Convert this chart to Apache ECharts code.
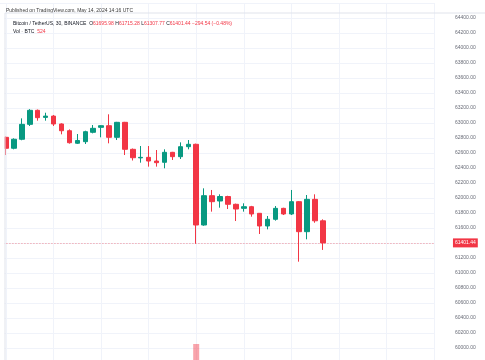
<!DOCTYPE html>
<html>
<head>
<meta charset="utf-8">
<script src="https://cdn.jsdelivr.net/npm/echarts@6/dist/echarts.min.js"></script>
<style>
html,body{margin:0;padding:0;background:#fff;}
#c{width:485px;height:360px;}
</style>
</head>
<body>
<div id="c"></div>
<script>
// 30-minute candles, May 13 18:00 UTC -> May 14 14:00 UTC
const times = ['18:00','18:30','19:00','19:30','20:00','20:30','21:00','21:30','22:00','22:30','23:00','23:30',
  '00:00','00:30','01:00','01:30','02:00','02:30','03:00','03:30','04:00','04:30','05:00','05:30',
  '06:00','06:30','07:00','07:30','08:00','08:30','09:00','09:30','10:00','10:30','11:00','11:30',
  '12:00','12:30','13:00','13:30','14:00'];
const opens  = [62809,62663,62783,62982,63169,63075,63092,62987,62897,62730,62751,62876,
  62942,62964,62809,63009,62649,62535,62542,62493,62476,62609,62551,62684,
  62716,61640,62031,61960,62020,61916,61862,61884,61796,61627,61716,61862,
  61787,61951,61551,61982,61695.98];
const closes = [62663,62783,62982,63169,63071,63092,62987,62897,62737,62767,62884,62929,
  62964,62809,63009,62649,62537,62542,62493,62471,62609,62551,62684,62716,
  61640,62031,61951,62020,61916,61853,61884,61787,61627,61716,61862,61787,
  61951,61551,61982,61695.98,61401.44];
const lows   = [62573,62649,62770,62960,63031,63031,62960,62849,62725,62720,62720,62862,
  62809,62729,62773,62573,62500,62471,62418,62418,62396,62507,62520,62649,
  61390,61630,61818,61871,61853,61693,61818,61751,61520,61582,61698,61773,
  61773,61151,61449,61670,61307.77];
const highs  = [62820,62796,63062,63185,63180,63137,63107,62996,62915,62853,62897,62973,
  62970,63116,63015,63015,62660,62693,62693,62640,62649,62615,62742,62773,
  62725,62129,62107,62049,62030,61925,61929,61895,61800,61760,61893,61870,
  62107,61960,62040,62049,61715.28];
const volumes = [820,640,1150,1300,760,540,610,700,980,520,610,480,
  560,900,820,1400,1100,650,720,600,680,520,640,560,
  3600,1500,900,700,640,820,560,620,1000,700,760,540,
  1200,1500,1300,900,524];
const priceTicks = {min: 59800, max: 64600, step: 200};
const lastPrice = 61401.44;
const header1 = 'Published on TradingView.com, May 14, 2024 14:16 UTC';
const symbolName = 'Bitcoin / TetherUS, 30, BINANCE';
const ohlcLabels = ['O','H','L','C'];
const ohlcValues = ['61695.98','61715.28','61307.77','61401.44'];
const changeText = '\u2212294.54 (\u22120.48%)';
const volName = 'Vol \u00b7 BTC';
const volValue = '524';

const UP = '#089981', DOWN = '#f23645';
const FONT = 'Liberation Sans';
const candleData = times.map((t, i) => [i, opens[i], closes[i], lows[i], highs[i]]);
const volData = times.map((t, i) => ({
  value: [i, volumes[i]],
  itemStyle: {color: closes[i] >= opens[i] ? 'rgba(8,153,129,0.45)' : 'rgba(242,54,69,0.45)'}
}));

let line2 = '{n|' + symbolName + '}  ';
ohlcLabels.forEach((k, i) => { line2 += '{k|' + k + '}{v|' + ohlcValues[i] + '} '; });
line2 += '{v|' + changeText + '}';

const txt = (c) => ({fontSize: 5, color: c, fontWeight: 'normal', fontFamily: FONT});

const chart = echarts.init(document.getElementById('c'), null, {renderer: 'canvas'});
const xCommon = {type: 'value', min: -6, max: 54, interval: 6,
  axisLine: {show: false}, axisTick: {show: false}, axisLabel: {show: false}};
chart.setOption({
  animation: false,
  backgroundColor: '#fff',
  title: [
    {left: 1, top: 3, text: header1, textStyle: txt('#3a3a3a')},
    {left: 8, top: 16, text: line2, textStyle: Object.assign(txt('#131722'), {rich: {
      n: txt('#131722'), k: txt('#131722'), v: txt(DOWN)}})},
    {left: 8, top: 24, text: '{n|' + volName + '}  {v|' + volValue + '}', textStyle: Object.assign(txt('#131722'), {rich: {
      n: txt('#131722'), v: txt(DOWN)}})}
  ],
  grid: [
    {left: -41.55, right: 51.05, top: 3, bottom: -3, outerBoundsMode: 'none', containLabel: false},
    {left: -41.55, right: 51.05, top: 300, bottom: -20, outerBoundsMode: 'none', containLabel: false}
  ],
  xAxis: [
    Object.assign({gridIndex: 0, splitLine: {show: true, lineStyle: {color: '#f0f3fa', width: 1}}}, xCommon),
    Object.assign({gridIndex: 1, splitLine: {show: false}}, xCommon)
  ],
  yAxis: [
    {gridIndex: 0, type: 'value', position: 'right', min: priceTicks.min, max: priceTicks.max, interval: priceTicks.step,
      axisLine: {show: false}, axisTick: {show: false},
      splitLine: {show: true, lineStyle: {color: '#f0f3fa', width: 1}},
      axisLabel: {fontSize: 5, color: '#6a6d78', margin: 21, showMaxLabel: false, showMinLabel: false,
        fontFamily: FONT, formatter: v => v.toFixed(2)}},
    {gridIndex: 1, type: 'value', min: 0, max: 8000, show: false}
  ],
  series: [
    {type: 'candlestick', xAxisIndex: 0, yAxisIndex: 0, barWidth: 5,
      encode: {x: 0, y: [1, 2, 3, 4]},
      data: candleData,
      itemStyle: {color: UP, color0: DOWN, borderColor: UP, borderColor0: DOWN, borderWidth: 1},
      markLine: {symbol: 'none', silent: true, animation: false,
        data: [{yAxis: lastPrice}],
        lineStyle: {color: 'rgba(242,54,69,0.55)', type: [1, 2], width: 1},
        label: {show: true, position: 'end', distance: 19, formatter: lastPrice.toFixed(2),
          backgroundColor: DOWN, color: '#ffffff', textBorderWidth: 0, fontSize: 5, padding: [2, 2], fontFamily: FONT}}
    },
    {type: 'bar', xAxisIndex: 1, yAxisIndex: 1, barWidth: 6, data: volData, encode: {x: 0, y: 1}}
  ],
  graphic: [
    {type: 'rect', z: 100, shape: {x: 0, y: 13, width: 4.5, height: 350}, style: {fill: '#fff'}},
    {type: 'rect', z: 101, shape: {x: 5, y: 13, width: 500, height: 400}, style: {fill: null, stroke: '#e0e3eb', lineWidth: 1}}
  ]
});
</script>
</body>
</html>
